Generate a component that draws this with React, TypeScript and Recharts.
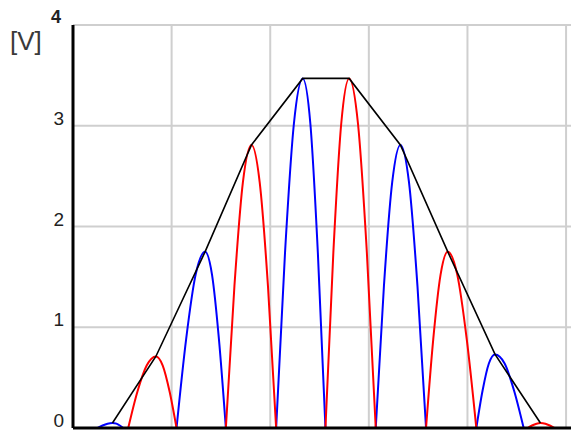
import React from "react";
import { LineChart, Line, XAxis, YAxis, CartesianGrid } from "recharts";

// x in arbitrary time units (grid every 100), y in volts
const xTicks = [0, 100, 200, 300, 400, 500];
const yTicks = [0, 1, 2, 3, 4];

// rectified half-waves, one lobe per array: [x, volts]
const blueLobes: [number, number][][] = [
  [[25, 0], [30, 0.025], [35, 0.043], [40, 0.05], [44, 0.043], [47.5, 0.025], [51, 0]],
  [[105, 0], [114.7, 0.88], [124.3, 1.52], [134, 1.75], [141, 1.52], [148, 0.88], [155, 0]],
  [[206, 0], [215, 1.74], [224, 3.02], [233, 3.47], [240.7, 3.02], [248.3, 1.74], [256, 0]],
  [[307, 0], [315.3, 1.41], [323.7, 2.44], [332, 2.81], [340.7, 2.44], [349.3, 1.41], [358, 0]],
  [[409, 0], [415.3, 0.37], [421.7, 0.64], [428, 0.73], [437.7, 0.64], [447.3, 0.37], [457, 0]],
];

const redLobes: [number, number][][] = [
  [[56, 0], [65.3, 0.36], [74.7, 0.62], [84, 0.71], [91, 0.62], [98, 0.36], [105, 0]],
  [[155, 0], [163.7, 1.41], [172.3, 2.44], [181, 2.81], [189.3, 2.44], [197.7, 1.41], [206, 0]],
  [[256, 0], [264, 1.74], [272, 3.02], [280, 3.47], [289, 3.02], [298, 1.74], [307, 0]],
  [[358, 0], [365.3, 0.88], [372.7, 1.52], [380, 1.75], [389.7, 1.52], [399.3, 0.88], [409, 0]],
  [[461, 0], [465.5, 0.025], [470, 0.043], [474, 0.05], [479, 0.043], [483.5, 0.025], [488, 0]],
];

// envelope through the lobe peaks
const envX = [40, 84, 134, 181, 233, 280, 332, 380, 428, 474];
const envV = [0.05, 0.71, 1.75, 2.81, 3.47, 3.47, 2.81, 1.75, 0.73, 0.05];

type Pt = { x: number; v: number | null };

const flatten = (lobes: [number, number][][]): Pt[] => {
  const out: Pt[] = [];
  lobes.forEach((lobe, i) => {
    if (i > 0) out.push({ x: lobe[0][0] - 0.01, v: null });
    lobe.forEach(([x, v]) => out.push({ x, v }));
  });
  return out;
};

const blueData = flatten(blueLobes);
const redData = flatten(redLobes);
const envData: Pt[] = envX.map((x, i) => ({ x, v: envV[i] }));

const FONT = "'Liberation Sans', Arial, sans-serif";

const YTick = (props: any) => {
  const { y, payload } = props;
  const top = payload.value === 4;
  return (
    <text
      x={top ? 61 : 64}
      y={top ? y - 2 : y - 1}
      textAnchor="end"
      fontFamily={FONT}
      fontSize={top ? 18 : 19}
      fontWeight={top ? 700 : 400}
      fill="#222"
    >
      {payload.value}
    </text>
  );
};

const NoTick = () => <g />;

export default function App() {
  return (
    <div style={{ position: "absolute", left: 0, top: 0, width: 571, height: 432, background: "#fff" }}>
      <LineChart width={571} height={432} data={envData} margin={{ top: 25, right: 0, bottom: 3, left: 0 }}>
        <CartesianGrid stroke="#cfcfcf" strokeWidth={2} horizontalValues={yTicks} verticalValues={xTicks} />
        <XAxis
          dataKey="x"
          type="number"
          domain={[0, 505]}
          ticks={xTicks}
          interval={0}
          tick={<NoTick />}
          tickLine={false}
          height={1}
          axisLine={{ stroke: "#000", strokeWidth: 3 }}
        />
        <YAxis
          type="number"
          domain={[0, 4]}
          ticks={yTicks}
          interval={0}
          width={73}
          tickLine={false}
          tick={<YTick />}
          axisLine={{ stroke: "#000", strokeWidth: 3 }}
        />
        <Line data={blueData} dataKey="v" type="monotone" stroke="#0000ff" strokeWidth={2} dot={false} activeDot={false} connectNulls={false} isAnimationActive={false} />
        <Line data={redData} dataKey="v" type="monotone" stroke="#ff0000" strokeWidth={2} dot={false} activeDot={false} connectNulls={false} isAnimationActive={false} />
        <Line data={envData} dataKey="v" type="linear" stroke="#000" strokeWidth={1.6} dot={false} activeDot={false} isAnimationActive={false} />
      </LineChart>
      <svg width={60} height={70} style={{ position: "absolute", left: 0, top: 0 }}>
        <text x={10} y={50} fontFamily={FONT} fontSize={26} fill="#3a3a3a">
          [V]
        </text>
      </svg>
    </div>
  );
}
